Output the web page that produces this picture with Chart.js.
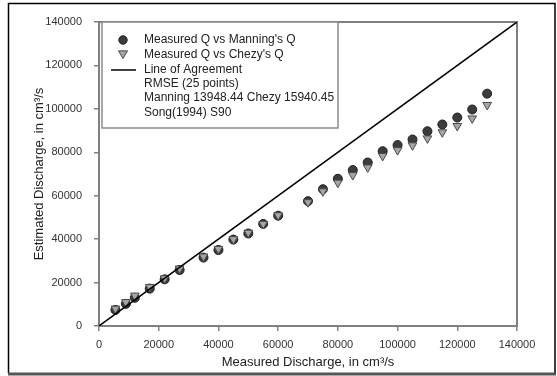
<!DOCTYPE html>
<html>
<head>
<meta charset="utf-8">
<script src="https://cdn.jsdelivr.net/npm/chart.js@4/dist/chart.umd.min.js"></script>
<style>
  html, body { margin: 0; padding: 0; background: #fff; }
  #wrap { position: relative; width: 557px; height: 376px; }
</style>
</head>
<body>
<div id="wrap"><canvas id="dischargeChart" width="557" height="376"></canvas></div>
<script>
// measured discharge (cm3/s) for the 25 runs
const measuredQ = [5500, 9000, 12000, 17000, 22000, 27000, 35000, 40000, 45000, 50000, 55000, 60000,
    70000, 75000, 80000, 85000, 90000, 95000, 100000, 105000, 110000, 115000, 120000, 125000, 130000];
const manningQ = [7400, 10200, 13000, 17200, 21500, 25800, 31500, 35000, 39800, 42600, 47000, 50800,
    57500, 63000, 67800, 71800, 75300, 80500, 83300, 85900, 89700, 92800, 96000, 99700, 107000];
const chezyQ = [8000, 11000, 14000, 18000, 22000, 26500, 32000, 35500, 40000, 43000, 47000, 51000,
    57000, 62000, 66000, 69500, 73000, 78300, 81000, 83200, 86400, 89200, 92100, 95600, 101800];
const agreementQ = [0, 140000];
const axisTicks = [0, 20000, 40000, 60000, 80000, 100000, 120000, 140000];

const seriesNames = ["Measured Q vs Manning's Q", "Measured Q vs Chezy's Q", "Line of Agreement"];
const noteLines = ["RMSE (" + measuredQ.length + " points)", "Manning 13948.44 Chezy 15940.45", "Song(1994) S90"];

const FONT = "'Liberation Sans', Arial, sans-serif";

function toPoints(xs, ys) {
    return xs.map((x, i) => ({ x: x, y: ys[i] }));
}

const circleStyle = { fill: '#3c3c3c', stroke: '#1e1e1e' };
const triStyle = { fill: '#a6a6a6', stroke: '#4a4a4a' };

function drawTriangleDown(ctx, x, y, r) {
    ctx.beginPath();
    ctx.moveTo(x - r, y - r * 0.7);
    ctx.lineTo(x + r, y - r * 0.7);
    ctx.lineTo(x, y + r);
    ctx.closePath();
    ctx.fill();
    ctx.stroke();
}

// frame round the plot, outer border and the boxed legend
const decorPlugin = {
    id: 'decor',
    beforeDatasetsDraw(chart) {
        const ctx = chart.ctx;
        const a = chart.chartArea;
        ctx.save();
        ctx.strokeStyle = '#808080';
        ctx.lineWidth = 2;
        ctx.strokeRect(a.left, a.top, a.right - a.left, a.bottom - a.top);
        ctx.restore();
    },
    afterDraw(chart) {
        const ctx = chart.ctx;
        ctx.save();
        // outer border
        ctx.strokeStyle = '#000';
        ctx.lineWidth = 1.5;
        ctx.beginPath();
        ctx.moveTo(8.5, 373);
        ctx.lineTo(8.5, 3.5);
        ctx.lineTo(555, 3.5);
        ctx.lineTo(555, 373);
        ctx.stroke();
        ctx.strokeStyle = '#555';
        ctx.lineWidth = 3;
        ctx.beginPath();
        ctx.moveTo(8, 374);
        ctx.lineTo(556, 374);
        ctx.stroke();

        // legend box
        const bx = 102, by = 22, bw = 236, bh = 106;
        ctx.fillStyle = '#fff';
        ctx.fillRect(bx, by, bw, bh);
        ctx.strokeStyle = '#8a8a8a';
        ctx.lineWidth = 1.5;
        ctx.strokeRect(bx, by, bw, bh);

        const symX = 123, textX = 144;
        const rows = [40, 55, 70, 84, 98, 113];

        ctx.fillStyle = circleStyle.fill;
        ctx.strokeStyle = circleStyle.stroke;
        ctx.lineWidth = 1;
        ctx.beginPath();
        ctx.arc(symX, rows[0], 4.2, 0, Math.PI * 2);
        ctx.fill();
        ctx.stroke();

        ctx.fillStyle = triStyle.fill;
        ctx.strokeStyle = triStyle.stroke;
        drawTriangleDown(ctx, symX, rows[1] - 1, 4.5);

        ctx.strokeStyle = '#000';
        ctx.lineWidth = 1.5;
        ctx.beginPath();
        ctx.moveTo(111, rows[2]);
        ctx.lineTo(136, rows[2]);
        ctx.stroke();

        ctx.fillStyle = '#222';
        ctx.font = '12px ' + FONT;
        ctx.textBaseline = 'middle';
        ctx.textAlign = 'left';
        const texts = seriesNames.concat(noteLines);
        texts.forEach((t, i) => ctx.fillText(t, textX, rows[i]));
        ctx.restore();
    }
};

const tickStyle = { color: '#333', font: { family: FONT, size: 11 } };

new Chart(document.getElementById('dischargeChart'), {
    type: 'scatter',
    data: {
        datasets: [
            {
                label: seriesNames[2],
                type: 'line',
                data: toPoints(agreementQ, agreementQ),
                borderColor: '#000',
                borderWidth: 1.5,
                pointRadius: 0,
                fill: false,
                order: 0
            },
            {
                label: seriesNames[1],
                data: toPoints(measuredQ, chezyQ),
                pointStyle: 'triangle',
                rotation: 180,
                pointRadius: 5,
                backgroundColor: triStyle.fill,
                borderColor: triStyle.stroke,
                borderWidth: 1,
                order: 1
            },
            {
                label: seriesNames[0],
                data: toPoints(measuredQ, manningQ),
                pointStyle: 'circle',
                pointRadius: 4.5,
                backgroundColor: circleStyle.fill,
                borderColor: circleStyle.stroke,
                borderWidth: 1,
                order: 2
            }
        ]
    },
    options: {
        responsive: false,
        animation: false,
        layout: { padding: { left: 22, top: 22, right: 40, bottom: 4 } },
        plugins: {
            legend: { display: false },
            tooltip: { enabled: false }
        },
        scales: {
            x: {
                type: 'linear',
                min: 0,
                max: 140000,
                afterFit(scale) { scale.height = 46; },
                afterBuildTicks(scale) { scale.ticks = axisTicks.map(v => ({ value: v })); },
                ticks: Object.assign({ padding: 7, maxRotation: 0, callback: v => String(v) }, tickStyle),
                grid: { drawOnChartArea: false, drawTicks: true, tickLength: 5, color: '#808080', lineWidth: 1.5 },
                border: { display: false },
                title: {
                    display: true,
                    text: 'Measured Discharge, in cm³/s',
                    color: '#222',
                    font: { family: FONT, size: 13 },
                    padding: { top: 0, bottom: 2 }
                }
            },
            y: {
                type: 'linear',
                min: 0,
                max: 140000,
                afterFit(scale) { scale.width = 77; },
                afterBuildTicks(scale) { scale.ticks = axisTicks.map(v => ({ value: v })); },
                ticks: Object.assign({ padding: 12, callback: v => String(v) }, tickStyle),
                grid: { drawOnChartArea: false, drawTicks: true, tickLength: 5, color: '#808080', lineWidth: 1.5 },
                border: { display: false },
                title: {
                    display: true,
                    text: 'Estimated Discharge, in cm³/s',
                    color: '#222',
                    font: { family: FONT, size: 13 },
                    padding: { top: 10, bottom: 0 }
                }
            }
        }
    },
    plugins: [decorPlugin]
});
</script>
</body>
</html>
